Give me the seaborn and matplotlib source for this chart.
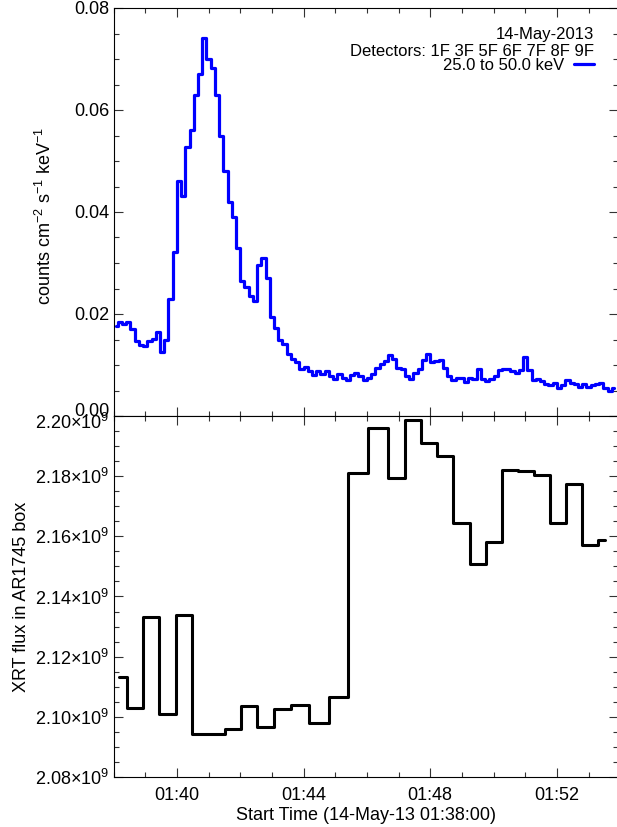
import numpy as np
import pandas as pd
import matplotlib
matplotlib.use("Agg")
import matplotlib.pyplot as plt
import matplotlib.transforms as mtransforms
import seaborn as sns
from matplotlib.ticker import FixedLocator, MultipleLocator, AutoMinorLocator, FuncFormatter

# ---------------- data ----------------
# RHESSI 25-50 keV count flux, 8 s bins starting 01:38:00
hsi_bin_seconds = 8.0
hsi_rate = [
    0.0177, 0.0184, 0.0180, 0.0184, 0.0170, 0.0148, 0.0140, 0.0138, 0.0148, 0.0151,
    0.0165, 0.0125, 0.0150, 0.0230, 0.0321, 0.0460, 0.0432, 0.0527, 0.0560, 0.0630,
    0.0670, 0.0741, 0.0700, 0.0682, 0.0630, 0.0550, 0.0480, 0.0420, 0.0390, 0.0330,
    0.0265, 0.0252, 0.0235, 0.0225, 0.0297, 0.0310, 0.0270, 0.0195, 0.0172, 0.0150,
    0.0142, 0.0121, 0.0111, 0.0105, 0.0093, 0.0097, 0.0088, 0.0081, 0.0089, 0.0083,
    0.0088, 0.0078, 0.0072, 0.0082, 0.0075, 0.0070, 0.0080, 0.0085, 0.0079, 0.0070,
    0.0075, 0.0082, 0.0094, 0.0102, 0.0107, 0.0120, 0.0112, 0.0095, 0.0093, 0.0078,
    0.0072, 0.0085, 0.0092, 0.0110, 0.0121, 0.0105, 0.0108, 0.0110, 0.0095, 0.0078,
    0.0070, 0.0074, 0.0075, 0.0066, 0.0075, 0.0072, 0.0092, 0.0072, 0.0068, 0.0072,
    0.0078, 0.0090, 0.0092, 0.0092, 0.0088, 0.0085, 0.0090, 0.0115, 0.0090, 0.0070,
    0.0072, 0.0068, 0.0063, 0.0060, 0.0064, 0.0054, 0.0060, 0.0070, 0.0064, 0.0062,
    0.0056, 0.0062, 0.0057, 0.0061, 0.0062, 0.0064, 0.0055, 0.0050, 0.0054,
]

# XRT flux in AR1745 box: minutes after 01:38:00 and flux
xrt_minutes = [0.158, 0.670, 1.180, 1.707, 2.212, 2.727, 3.263, 3.775, 4.276, 4.790,
               5.316, 5.869, 6.500, 7.111, 7.715, 8.378, 8.948, 9.448, 9.958, 10.465,
               10.990, 11.510, 12.005, 12.505, 13.020, 13.535, 14.035, 14.535, 15.045, 15.530]
xrt_flux = [2.1131e9, 2.1028e9, 2.1331e9, 2.1011e9, 2.1339e9, 2.0942e9, 2.0943e9, 2.0958e9,
            2.1036e9, 2.0965e9, 2.1026e9, 2.1039e9, 2.0978e9, 2.1065e9, 2.1811e9, 2.1961e9,
            2.1795e9, 2.1987e9, 2.1911e9, 2.1867e9, 2.1645e9, 2.1509e9, 2.1580e9, 2.1822e9,
            2.1816e9, 2.1805e9, 2.1645e9, 2.1775e9, 2.1572e9, 2.1587e9]

date_label = "14-May-2013"
detectors_label = "Detectors: 1F 3F 5F 6F 7F 8F 9F"
band_label = "25.0 to 50.0 keV"
top_ylabel = r"counts cm$^{-2}$ s$^{-1}$ keV$^{-1}$"
bottom_ylabel = "XRT flux in AR1745 box"
xlabel = "Start Time (14-May-13 01:38:00)"
start_hour, start_minute = 1, 38
x_major_minutes = [2, 6, 10, 14]
top_yticks = [0.00, 0.02, 0.04, 0.06, 0.08]
bottom_yticks = [2.08e9, 2.10e9, 2.12e9, 2.14e9, 2.16e9, 2.18e9, 2.20e9]

# ---------------- style ----------------
sns.set_theme(style="ticks")
plt.rcParams["font.family"] = ["Liberation Sans", "DejaVu Sans"]
plt.rcParams["mathtext.fontset"] = "custom"
plt.rcParams["mathtext.rm"] = "Liberation Sans"
plt.rcParams["mathtext.it"] = "Liberation Sans:italic"
plt.rcParams["mathtext.bf"] = "Liberation Sans:bold"
plt.rcParams["mathtext.sf"] = "Liberation Sans"

W, H = 617, 827
fig = plt.figure(figsize=(W / 100, H / 100), dpi=100)
fig.patch.set_facecolor("white")

left_px, right_px = 113.5, 618.0
top1_px, mid_px, bot2_px = 8.0, 416.0, 777.0
axw = (right_px - left_px) / W
ax1 = fig.add_axes([left_px / W, 1 - mid_px / H, axw, (mid_px - top1_px) / H])
ax2 = fig.add_axes([left_px / W, 1 - bot2_px / H, axw, (bot2_px - mid_px) / H])

hsi = pd.DataFrame({
    "minutes": (np.arange(len(hsi_rate)) + 0.5) * hsi_bin_seconds / 60.0,
    "rate": hsi_rate,
})
xrt = pd.DataFrame({"minutes": xrt_minutes, "flux": xrt_flux})

sns.lineplot(data=hsi, x="minutes", y="rate", ax=ax1, color="#0000ff", lw=2.3,
             drawstyle="steps-mid", estimator=None, sort=False, label=band_label)
sns.lineplot(data=xrt, x="minutes", y="flux", ax=ax2, color="black", lw=2.2,
             drawstyle="steps-mid", estimator=None, sort=False)

xmax = (right_px - left_px) / 31.67
fs = 13
for ax in (ax1, ax2):
    ax.set_xlim(0, xmax)
    ax.xaxis.set_major_locator(FixedLocator(x_major_minutes))
    ax.xaxis.set_minor_locator(MultipleLocator(1))
    ax.yaxis.set_minor_locator(AutoMinorLocator(4))
    ax.tick_params(which="both", direction="in", top=True, right=True,
                   color="#333333", width=0.8, labelsize=fs, labelcolor="black")
    ax.tick_params(which="major", length=6.5)
    ax.tick_params(which="minor", length=3.5)
    ax.tick_params(axis="y", pad=3)
    ax.tick_params(axis="x", pad=7)
    for s in ax.spines.values():
        s.set_linewidth(0.8)
        s.set_color("black")
    ax.set_facecolor("white")
    ax.grid(False)

ax1.set_ylim(0, 0.08)
ax1.yaxis.set_major_locator(FixedLocator(top_yticks))
ax1.yaxis.set_major_formatter(FuncFormatter(lambda v, p: f"{v:.2f}"))
ax1.tick_params(axis="x", labelbottom=False)
ax1.set_xlabel("")
ax1.set_ylabel(top_ylabel, fontsize=fs, color="black")
ax1.yaxis.set_label_coords((55 - left_px) / (right_px - left_px), 0.49)

ax2.set_ylim(2.08e9, 2.20e9)
ax2.yaxis.set_major_locator(FixedLocator(bottom_yticks))
ax2.yaxis.set_major_formatter(
    FuncFormatter(lambda v, p: r"$\mathregular{%.2f{\times}10^{9}}$" % (v / 1e9)))
ax2.xaxis.set_major_formatter(
    FuncFormatter(lambda v, p: f"{start_hour:02d}:{start_minute + int(round(v)):02d}"))
ax2.set_xlabel(xlabel, fontsize=fs, color="black", labelpad=2)
ax2.set_ylabel(bottom_ylabel, fontsize=fs, color="black")
ax2.yaxis.set_label_coords((30 - left_px) / (right_px - left_px), 0.5)

fig.canvas.draw()
up = mtransforms.ScaledTranslation(0, 6 / 100, fig.dpi_scale_trans)
down = mtransforms.ScaledTranslation(0, -5 / 100, fig.dpi_scale_trans)
lab0 = ax1.yaxis.get_major_ticks()[0].label1
lab0.set_transform(lab0.get_transform() + up)
labN = ax2.yaxis.get_major_ticks()[-1].label1
labN.set_transform(labN.get_transform() + down)

# annotations
def ay(py):
    return (mid_px - py) / (mid_px - top1_px)

xr = (594 - left_px) / (right_px - left_px)
afs = 12
ax1.text(xr, ay(38.5), date_label, ha="right", va="baseline", fontsize=afs,
         color="black", transform=ax1.transAxes)
ax1.text(xr, ay(56.5), detectors_label, ha="right", va="baseline", fontsize=afs,
         color="black", transform=ax1.transAxes)
leg = ax1.legend(loc="upper right", bbox_to_anchor=(xr, ay(58)), frameon=False,
                 markerfirst=False, fontsize=afs, borderpad=0, borderaxespad=0,
                 handlelength=1.2, handletextpad=0.6)
for t in leg.get_texts():
    t.set_color("black")

fig.savefig("out.png", dpi=100, facecolor="white")
